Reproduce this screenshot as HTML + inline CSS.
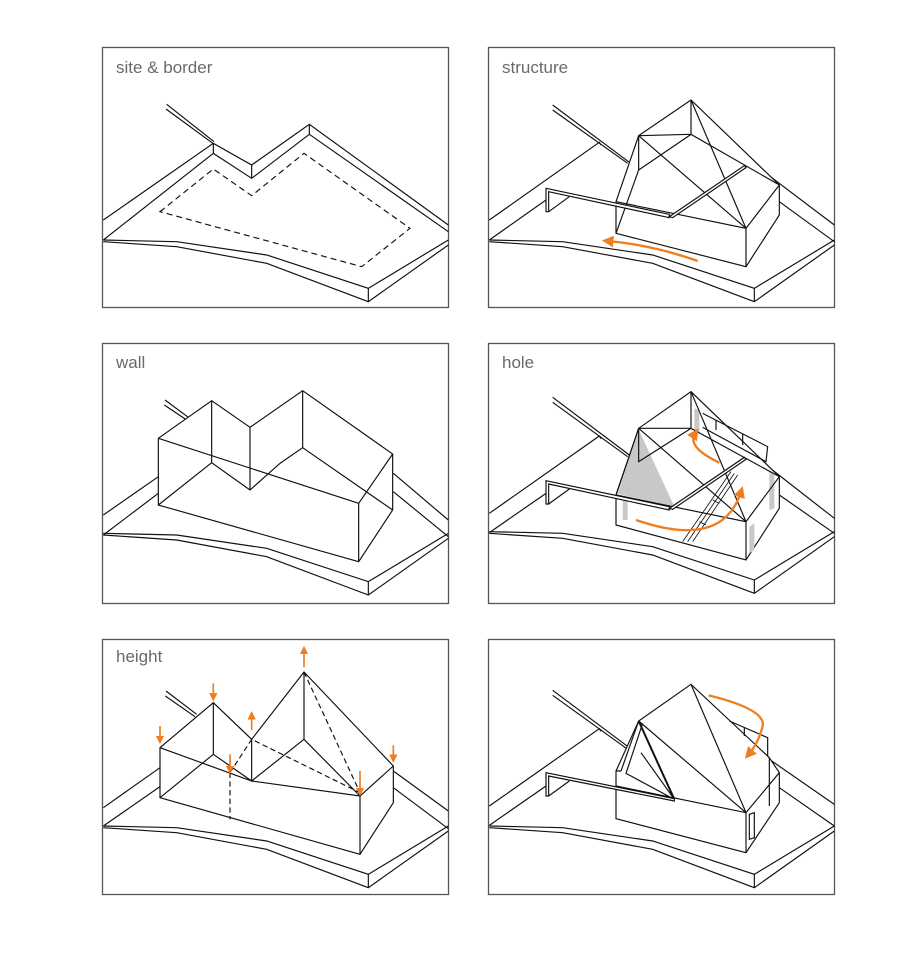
<!DOCTYPE html>
<html><head><meta charset="utf-8"><style>
html,body{margin:0;padding:0;background:#fff;width:915px;height:953px;overflow:hidden}
svg{position:absolute;left:0;top:0}
</style></head><body>
<svg width="915" height="953" viewBox="0 0 915 953" xmlns="http://www.w3.org/2000/svg">
<defs>
<g id="base" fill="none" stroke="#111" stroke-width="3.5">
<path d="M10,585 L230,590 L500,630 L805,730 L1045,585"/>
<path d="M10,590 L230,605 L500,655 L805,770 L1045,600"/>
<path d="M805,730 L805,770"/>
</g>
<marker id="ah" viewBox="0 0 10 10" refX="5" refY="5" markerWidth="5" markerHeight="5" orient="auto-start-reverse"><path d="M0,0 L10,5 L0,10 z" fill="#f07d1e"/></marker>
</defs>
<g fill="none" stroke="#555" stroke-width="1.3">
<rect x="102.5" y="47.5" width="346" height="260"/>
<rect x="488.5" y="47.5" width="346" height="260"/>
<rect x="102.5" y="343.5" width="346" height="260"/>
<rect x="488.5" y="343.5" width="346" height="260"/>
<rect x="102.5" y="639.5" width="346" height="255"/>
<rect x="488.5" y="639.5" width="346" height="255"/>
</g>
<g font-family="Liberation Sans, sans-serif" font-size="17" fill="#6a6a6a">
<text x="116" y="73">site &amp; border</text>
<text x="502" y="73">structure</text>
<text x="116" y="368">wall</text>
<text x="502" y="368">hole</text>
<text x="116" y="662">height</text>
</g>

<!-- panel 1 -->
<svg x="100" y="45" width="350" height="265" viewBox="0 0 1050 795">
<use href="#base"/>
<g fill="none" stroke="#111" stroke-width="3.5">
<path d="M200,178 L342,290 M198,192 L340,296"/>
<path d="M10,525 L340,295 L455,360 L628,238 L1045,540"/>
<path d="M10,585 L340,325 L455,400 L628,268 L1045,560"/>
<path d="M340,295 L340,325 M455,360 L455,400 M628,238 L628,268"/>
<path stroke-dasharray="18,12" d="M180,500 L340,372 L455,452 L612,325 L930,550 L785,665 Z"/>
</g></svg>

<!-- panel 2 -->
<svg x="486" y="45" width="350" height="265" viewBox="0 0 1050 795">
<use href="#base"/>
<g fill="none" stroke="#111" stroke-width="3.5">
<path d="M200,180 L430,352 M200,195 L425,355"/>
<path d="M10,525 L340,292 L345,300 M10,585 L180,465"/>
<path d="M840,385 L1045,540 M880,470 L1045,590"/>
<path fill="#fff" d="M390,470 L458,272 L615,165 L880,420 L880,510 L780,665 L390,565 Z"/>
<path d="M615,165 L615,268 M615,165 L780,550 M458,272 L615,268 L880,420 M458,272 L458,375 L615,268 M458,272 L780,550 M390,470 L780,550 L880,420 M780,550 L780,665 M390,565 L458,375"/>
<path fill="#fff" d="M180,430 L550,508 L550,518 L188,440 L188,500 L180,500 Z"/>
<path d="M188,500 L250,455"/>
<path fill="#fff" d="M550,515 L775,362 L780,368 L560,518 Z"/>
<path stroke="#f07d1e" stroke-width="7" marker-end="url(#ah)" d="M635,648 Q500,600 365,588"/>
</g></svg>

<!-- panel 3 -->
<svg x="100" y="340" width="350" height="265" viewBox="0 0 1050 795">
<use href="#base" transform="translate(0,-5)"/>
<g fill="none" stroke="#111" stroke-width="3.5">
<path d="M195,180 L265,232 M193,195 L260,240"/>
<path d="M10,525 L175,410 M10,585 L175,460"/>
<path d="M880,400 L1045,540 M880,455 L1045,590"/>
<path fill="#fff" d="M175,295 L335,182 L450,262 L608,152 L878,342 L878,510 L776,665 L175,495 Z"/>
<path d="M175,295 L776,490 L878,342 M776,490 L776,665 M335,182 L335,368 L450,450 L540,370 L608,323 L878,510 M608,152 L608,323 M450,262 L450,450 M175,495 L335,368"/>
</g></svg>

<!-- panel 4 -->
<svg x="486" y="340" width="350" height="265" viewBox="0 0 1050 795">
<use href="#base" transform="translate(0,-10)"/>
<g fill="none" stroke="#111" stroke-width="3.5">
<path d="M200,172 L430,345 M200,187 L425,350"/>
<path d="M10,520 L340,288 L345,296 M10,578 L180,460"/>
<path d="M840,375 L1045,535 M880,465 L1045,580"/>
<path fill="#fff" d="M390,465 L458,265 L615,155 L880,410 L880,505 L780,660 L390,555 Z"/>
<path fill="#c8c8c8" stroke="none" d="M458,268 L395,462 L565,500 Z"/>
<path fill="#c8c8c8" stroke="none" d="M458,270 L470,360 L462,360 Z M625,205 L640,210 L640,280 L625,275 Z M850,390 L865,400 L865,505 L850,510 Z M790,560 L805,550 L805,630 L790,640 Z M410,480 L425,483 L425,540 L410,540 Z"/>
<path d="M615,155 L615,265 M615,155 L780,545 M458,265 L615,265 L880,410 M458,265 L458,365 L615,265 M458,265 L780,545 M390,465 L780,545 L880,410 M780,545 L780,660 M390,465 L458,265"/>
<path d="M650,220 L845,320 L840,365 L650,262 M690,240 L690,270 M770,280 L770,315"/>
<path stroke-width="2.5" d="M590,605 L735,395 M605,605 L745,400 M620,605 L755,405 M640,545 L660,555 M680,480 L700,490"/>
<path fill="#fff" d="M180,422 L550,500 L550,510 L188,432 L188,492 L180,492 Z"/>
<path d="M188,492 L250,447"/>
<path fill="#fff" d="M550,505 L775,352 L780,358 L560,508 Z"/>
<path stroke="#f07d1e" stroke-width="7" marker-end="url(#ah)" d="M450,540 Q710,630 765,455"/>
<path stroke="#f07d1e" stroke-width="7" marker-end="url(#ah)" d="M700,368 Q600,320 628,280"/>
</g></svg>

<!-- panel 5 -->
<svg x="100" y="636" width="350" height="262" viewBox="0 0 1050 786">
<use href="#base" transform="translate(0,-15)"/>
<g fill="none" stroke="#111" stroke-width="3.5">
<path d="M198,165 L290,235 M196,180 L285,242"/>
<path d="M10,515 L180,395 M10,570 L180,452"/>
<path d="M880,405 L1045,525 M880,455 L1045,578"/>
<path fill="#fff" d="M180,335 L340,200 L455,310 L612,108 L880,390 L880,500 L780,655 L180,485 Z"/>
<path d="M180,335 L455,435 L780,480 L880,390 M340,200 L340,355 L455,435 L612,310 L780,480 M455,310 L455,435 M612,108 L612,310 M180,485 L340,355 M780,480 L780,655"/>
<path stroke-dasharray="16,10" d="M390,410 L390,550 M390,410 L455,310 L780,470 M612,108 L780,470"/>
<g stroke="#f07d1e" stroke-width="5">
<path marker-end="url(#ah)" d="M180,270 L180,312"/>
<path marker-end="url(#ah)" d="M340,142 L340,184"/>
<path marker-end="url(#ah)" d="M390,355 L390,402"/>
<path marker-end="url(#ah)" d="M780,405 L780,468"/>
<path marker-end="url(#ah)" d="M880,328 L880,368"/>
<path marker-end="url(#ah)" d="M455,282 L455,238"/>
<path marker-end="url(#ah)" d="M612,94 L612,42"/>
</g>
</g></svg>

<!-- panel 6 -->
<svg x="486" y="636" width="350" height="262" viewBox="0 0 1050 786">
<use href="#base" transform="translate(0,-15)"/>
<g fill="none" stroke="#111" stroke-width="3.5">
<path d="M200,163 L430,335 M200,178 L425,340"/>
<path d="M10,510 L340,278 L345,286 M10,568 L180,450"/>
<path d="M850,370 L1045,505 M880,455 L1045,570"/>
<path fill="#fff" d="M390,405 L458,255 L615,145 L850,365 L880,410 L880,500 L780,650 L390,548 Z"/>
<path d="M615,145 L780,530 M458,255 L780,530 M390,450 L780,530 L880,410 M780,530 L780,650 M850,365 L850,510 M458,255 L405,405 M470,262 L420,412 L565,490 M465,350 L565,490 M390,405 L405,405"/>
<path stroke-width="6" d="M458,255 L565,490"/>
<path d="M730,255 L845,305 L845,360 M775,275 L775,300 M790,535 L805,530 L805,605 L790,610 Z"/>
<path fill="#fff" d="M180,410 L565,488 L565,495 L188,420 L188,480 L180,480 Z"/>
<path d="M188,480 L250,435"/>
<path stroke="#f07d1e" stroke-width="7" marker-end="url(#ah)" d="M668,178 Q840,220 830,270 Q818,320 788,355"/>
</g></svg>
</svg>
</body></html>
